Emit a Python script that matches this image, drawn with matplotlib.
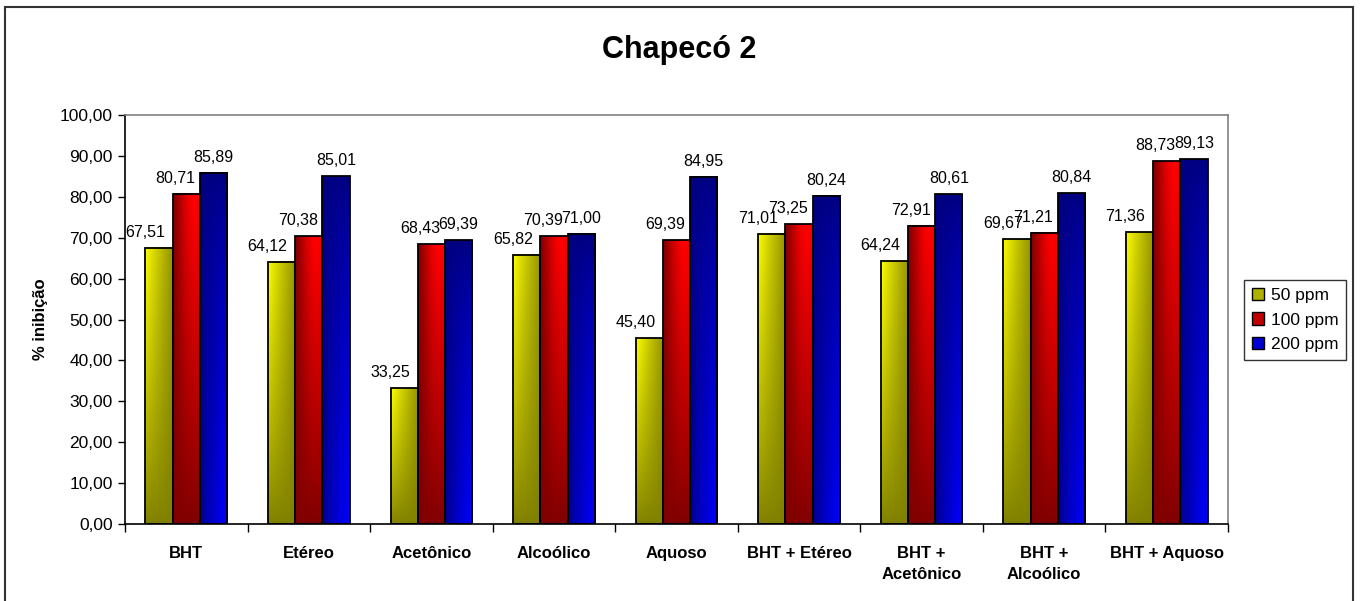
import numpy as np
import matplotlib.pyplot as plt
from matplotlib.patches import Rectangle, Patch
from matplotlib.colors import to_rgb

plt.rcParams['font.family'] = ['Liberation Sans', 'DejaVu Sans']

###############################################################################
###                               DATA
###############################################################################
categorias = ['BHT', 'Etéreo', 'Acetônico', 'Alcoólico', 'Aquoso',
              'BHT + Etéreo', 'BHT +\nAcetônico', 'BHT +\nAlcoólico', 'BHT + Aquoso']
series = ['50 ppm', '100 ppm', '200 ppm']
ppm_50 = [67.51, 64.12, 33.25, 65.82, 45.40, 71.01, 64.24, 69.67, 71.36]
ppm_100 = [80.71, 70.38, 68.43, 70.39, 69.39, 73.25, 72.91, 71.21, 88.73]
ppm_200 = [85.89, 85.01, 69.39, 71.00, 84.95, 80.24, 80.61, 80.84, 89.13]
valores = [ppm_50, ppm_100, ppm_200]

# bright / dark colour of each series (bars are shaded between them)
claro = ['#FFFF00', '#FF0000', '#0000FF']
escuro = ['#808000', '#800000', '#000080']
# horizontal shift of the value labels, in pixels
desloc = [-14, -11, 0]

###############################################################################
###                           SHADED BARS
###############################################################################
def peso(i, th, tv):
    # weight of the bright colour; th: 0 left -> 1 right, tv: 0 bottom -> 1 top
    if i == 0:
        return np.clip(tv**0.8 * (1 - 0.85 * th**0.9), 0, 1)
    if i == 1:
        return np.clip(tv**0.9 * np.sin(np.pi * 0.62 * th)**1.2, 0, 1)
    return np.clip((1 - tv)**0.7 * th**0.7, 0, 1)

def gradiente(i, nx=40, ny=120):
    th = np.linspace(0, 1, nx)[None, :]
    tv = np.linspace(1, 0, ny)[:, None]
    w = peso(i, th, tv)[..., None]
    c1 = np.array(to_rgb(claro[i]))
    c0 = np.array(to_rgb(escuro[i]))
    return c0 + (c1 - c0) * w

fig = plt.figure(figsize=(13.6, 6.01), dpi=100)
ax = fig.add_axes([125/1360, 1 - 524/601, (1228 - 125)/1360, (524 - 115)/601])

n = len(categorias)
x = np.arange(n)
w = 1 / (3 + 1.5)
imgs = [gradiente(i) for i in range(3)]

for i in range(3):
    for j in range(n):
        x0 = x[j] - 1.5 * w + i * w
        h = valores[i][j]
        ax.imshow(imgs[i], extent=(x0, x0 + w, 0, h), aspect='auto',
                  interpolation='bilinear', zorder=2)
        ax.add_patch(Rectangle((x0, 0), w, h, fill=False, edgecolor='black',
                               linewidth=1.3, zorder=3))
        ax.annotate(f'{h:.2f}'.replace('.', ','), (x0 + w / 2, h),
                    xytext=(desloc[i], 8), textcoords='offset pixels',
                    ha='center', va='bottom', fontsize=11.5, zorder=4)

ax.set_xlim(-0.5, n - 0.5)
ax.set_ylim(0, 100)

# axes
ax.set_yticks(np.arange(0, 101, 10))
ax.set_yticklabels([f'{v:.2f}'.replace('.', ',') for v in np.arange(0, 101, 10)],
                   fontsize=12.5)
ax.tick_params(axis='y', length=5, width=1, direction='out', pad=4)
ax.set_xticks(np.arange(-0.5, n, 1))
ax.set_xticklabels([])
ax.set_xticks(x, minor=True)
ax.set_xticklabels(categorias, minor=True, fontsize=12, fontweight='bold',
                   linespacing=1.45, va='top')
ax.tick_params(axis='x', which='major', length=6, width=1, direction='out')
ax.tick_params(axis='x', which='minor', length=0, pad=16)
for s in ['left', 'bottom']:
    ax.spines[s].set_color('black')
    ax.spines[s].set_linewidth(1.2)
for s in ['top', 'right']:
    ax.spines[s].set_color('#808080')
    ax.spines[s].set_linewidth(1.2)

ax.set_ylabel('% inibição', fontsize=12, fontweight='bold', labelpad=8)
fig.text((602 + 757) / 2 / 1360, 1 - 50 / 601, 'Chapecó 2', ha='center',
         va='center', fontsize=22, fontweight='bold')

# legend
handles = [Patch(facecolor=c, edgecolor='black', linewidth=1)
           for c in ['#B0B000', '#C00000', '#0000D0']]
leg = fig.legend(handles, series, loc='center left',
                 bbox_to_anchor=(1244 / 1360, 1 - 320 / 601), fontsize=12.5,
                 frameon=True, fancybox=False, handlelength=0.7,
                 handleheight=0.7, handletextpad=0.4, borderpad=0.45,
                 labelspacing=0.55, borderaxespad=0)
leg.get_frame().set_edgecolor('black')
leg.get_frame().set_linewidth(1)

# outer chart border
fig.patches.append(Rectangle((5 / 1360, -0.05), 1348 / 1360, 1.05 - 7 / 601,
                             transform=fig.transFigure, fill=False,
                             edgecolor='#333333', linewidth=1.5))

fig.savefig('out.png', dpi=100)
